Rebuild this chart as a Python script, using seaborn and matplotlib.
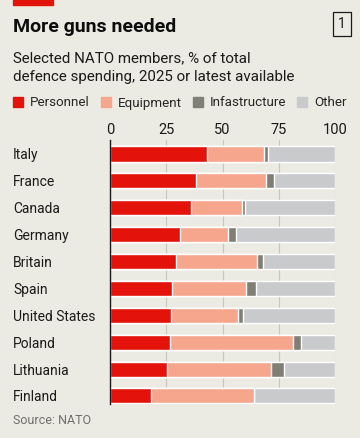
import matplotlib
matplotlib.use("Agg")
import matplotlib.pyplot as plt
import matplotlib.patches as mpatches
import numpy as np
import pandas as pd
import seaborn as sns

# Data (% of total defence spending)
countries = ["Italy", "France", "Canada", "Germany", "Britain", "Spain",
             "United States", "Poland", "Lithuania", "Finland"]
personnel = [43.0, 38.2, 36.0, 31.1, 29.3, 27.7, 27.3, 26.7, 25.2, 18.1]
equipment = [25.6, 31.1, 22.8, 21.5, 36.0, 32.6, 29.7, 54.5, 46.2, 46.0]
infrastructure = [1.8, 3.7, 1.2, 3.3, 2.8, 4.4, 2.0, 3.8, 5.8, 0.0]
other = [29.6, 27.0, 40.0, 44.1, 31.9, 35.3, 41.0, 15.0, 22.8, 35.9]

series = ["Personnel", "Equipment", "Infastructure", "Other"]
colors = ["#E3120B", "#F6A68C", "#7F7F77", "#C8CACB"]
xticks = [0, 25, 50, 75, 100]

bg = "#ECEBE3"

df = pd.DataFrame({"country": countries, "Personnel": personnel,
                   "Equipment": equipment, "Infastructure": infrastructure,
                   "Other": other})
# cumulative sums so the layers can be drawn on top of each other
cum = df[series].cumsum(axis=1)
cum["country"] = df["country"]

sns.set_style("white")
plt.rcParams["font.family"] = ["Roboto", "DejaVu Sans"]

fig = plt.figure(figsize=(3.6, 4.38), dpi=100, facecolor=bg)
ax = fig.add_axes([110 / 360, 1 - 404 / 438, 225 / 360, 264 / 438])
ax.set_facecolor(bg)

# widest layer first
for s, c in zip(series[::-1], colors[::-1]):
    sns.barplot(data=cum, x=s, y="country", color=c, width=0.56,
                saturation=1, orient="h", ax=ax, zorder=2)

ax.set_xlim(0, 100)
ax.set_ylim(9.3, -0.52)
ax.set_xlabel("")
ax.set_ylabel("")

ax.xaxis.tick_top()
ax.set_xticks(xticks)
ax.set_xticklabels([str(t) for t in xticks], fontsize=10.5, color="#1a1a1a")
ax.tick_params(axis="x", length=0, pad=2)
ax.grid(axis="x", color="#C6C6BE", linewidth=0.8, zorder=0)
ax.set_axisbelow(True)

ax.tick_params(axis="y", length=0, pad=97 * 72 / 100)
for lab in ax.get_yticklabels():
    lab.set_horizontalalignment("left")
    lab.set_fontsize(10)
    lab.set_color("#1a1a1a")

for sp in ["top", "right", "bottom"]:
    ax.spines[sp].set_visible(False)
ax.spines["left"].set_color("#1a1a1a")
ax.spines["left"].set_linewidth(1.0)
ax.spines["left"].set_zorder(5)

# header
fig.patches.append(mpatches.Rectangle((13 / 360, 1 - 5 / 438), 40 / 360, 5 / 438,
                                      transform=fig.transFigure, color="#E3120B"))
fig.text(13 / 360, 1 - 27 / 438, "More guns needed", fontsize=14,
         fontweight="bold", va="center", ha="left", color="#0d0d0d")
fig.text(342 / 360, 1 - 24 / 438, "1", fontsize=10, va="center", ha="center",
         color="#1a1a1a",
         bbox=dict(boxstyle="square,pad=0.35", fc="none", ec="#1a1a1a", lw=0.9))
fig.text(13 / 360, 1 - 58 / 438, "Selected NATO members, % of total",
         fontsize=10.9, va="center", ha="left", color="#1a1a1a")
fig.text(13 / 360, 1 - 77 / 438, "defence spending, 2025 or latest available",
         fontsize=10.9, va="center", ha="left", color="#1a1a1a")

handles = [mpatches.Patch(color=c, label=s) for s, c in zip(series, colors)]
fig.legend(handles=handles, loc="center left", bbox_to_anchor=(13 / 360, 1 - 103 / 438),
           ncol=4, frameon=False, fontsize=9.6, handlelength=0.75, handleheight=0.75,
           handletextpad=0.5, columnspacing=0.85, borderaxespad=0, borderpad=0)

fig.text(13 / 360, 1 - 421 / 438, "Source: NATO", fontsize=9, va="center",
         ha="left", color="#6f6f6f")

fig.savefig("out.png", dpi=100, facecolor=bg)
